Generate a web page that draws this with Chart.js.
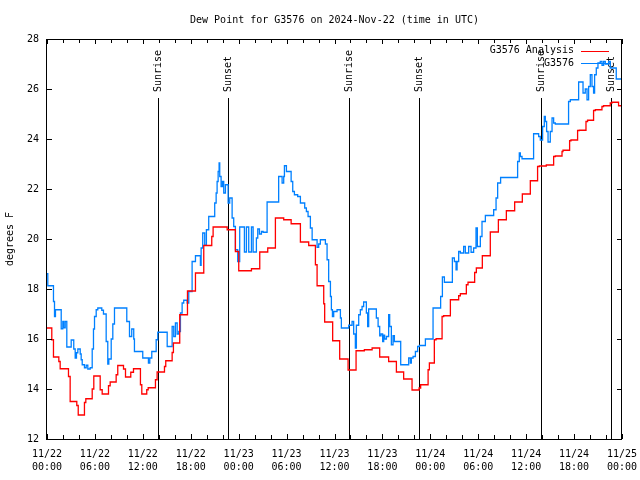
<!DOCTYPE html>
<html>
<head>
<meta charset="utf-8">
<title>Dew Point for G3576</title>
<script src="https://cdn.jsdelivr.net/npm/chart.js@4.4.1/dist/chart.umd.min.js"></script>
<style>
  body { margin: 0; background: #fff; }
  canvas { display: block; }
</style>
</head>
<body>
<canvas id="dewChart" width="640" height="480"></canvas>
<script>
// === Data (time = hours since 2024-11-22 00:00 UTC) ===
const obsTimes = [0, 0.10, 0.81, 0.94, 1.06, 1.78, 1.98, 2.10, 2.28, 2.48, 3.03, 3.35, 3.53, 3.69, 3.86,
  4.16, 4.28, 4.41, 4.69, 4.91, 5.11, 5.41, 5.66, 5.82, 5.95, 6.16, 6.36, 6.86, 7.07, 7.41, 7.61, 7.74,
  8.04, 8.24, 8.45, 9.99, 10.33, 10.61, 10.86, 10.95, 11.99, 12.70, 12.87, 13.12, 13.67, 13.87, 15.05,
  15.67, 15.87, 16.08, 16.30, 16.50, 16.71, 16.92, 17.12, 17.55, 17.75, 18.17, 18.59, 19.21, 19.30,
  19.50, 19.75, 19.96, 20.25, 21.00, 21.18, 21.30, 21.43, 21.55, 21.63, 21.80, 21.97, 22.13, 22.34,
  22.68, 22.88, 23.18, 23.38, 23.59, 23.88, 24.13, 24.72, 24.97, 25.26, 25.60, 25.81, 26.22, 26.39,
  26.60, 26.85, 27.06, 27.56, 29.01, 29.44, 29.64, 29.73, 29.98, 30.57, 30.77, 30.98, 31.39, 31.73,
  32.27, 32.48, 32.69, 32.98, 33.20, 33.82, 34.02, 34.23, 34.86, 35.07, 35.27, 35.49, 35.61, 35.74,
  35.90, 36.32, 36.74, 36.86, 37.78, 38.20, 38.40, 38.61, 38.74, 39.03, 39.24, 39.45, 39.65, 39.99,
  40.15, 40.28, 41.24, 41.46, 41.66, 41.83, 42.03, 42.16, 42.28, 42.50, 42.78, 42.91, 43.12, 43.33,
  43.50, 44.29, 45.29, 45.50, 45.62, 45.84, 46.13, 46.41, 46.63, 47.38, 48.34, 49.29, 49.51, 49.76,
  50.76, 51.01, 51.22, 51.35, 51.55, 51.76, 52.17, 52.38, 52.80, 53.10, 53.42, 53.72, 53.89, 54.26,
  54.47, 54.89, 55.93, 56.23, 56.43, 56.80, 58.93, 59.14, 59.27, 59.48, 60.93, 61.56, 61.77, 62.06,
  62.27, 62.40, 62.56, 62.74, 63.02, 63.24, 63.44, 63.65, 65.31, 65.53, 66.57, 67.12, 67.40, 67.62,
  67.82, 68.03, 68.24, 68.44, 68.57, 68.78, 68.99, 69.28, 69.50, 69.70, 69.91, 70.32, 70.53, 71.28, 72.00];
const obsDew = [18.61, 18.13, 17.50, 16.90, 17.17, 16.41, 16.70, 16.45, 16.70, 15.68, 15.96, 15.60, 15.24, 15.45, 15.60,
  15.40, 15.17, 14.97, 14.85, 14.95, 14.80, 14.85, 15.60, 16.40, 16.90, 17.17, 17.24, 17.15, 17.00, 15.90, 15.00, 15.20,
  16.00, 16.60, 17.24, 16.70, 16.10, 16.40, 16.00, 15.50, 15.24, 15.04, 15.24, 15.50, 15.97, 16.27, 15.70,
  16.50, 16.10, 16.64, 16.20, 16.30, 17.04, 17.44, 17.55, 17.44, 17.90, 19.10, 19.33, 18.95, 19.64,
  20.24, 19.75, 20.37, 20.90, 21.44, 21.84, 22.30, 22.70, 23.04, 22.50, 22.10, 22.30, 21.84, 22.17,
  21.44, 21.64, 20.84, 20.50, 19.57, 19.10, 20.48, 19.48, 20.48, 19.48, 20.48, 19.48, 20.04, 20.40,
  20.20, 20.30, 20.27, 21.48, 22.50, 22.24, 22.50, 22.93, 22.70, 22.30, 21.90, 21.77, 21.70, 21.44,
  21.24, 21.10, 20.90, 20.44, 19.97, 19.67, 19.80, 19.97, 19.80, 19.17, 18.30, 17.70, 17.17, 16.90,
  17.10, 17.17, 16.84, 16.44, 16.55, 16.70, 16.20, 15.64, 16.55, 16.97, 17.17, 17.30, 17.48, 17.04,
  16.50, 17.20, 16.84, 16.50, 16.13, 16.20, 15.90, 16.15, 16.00, 16.10, 16.97, 16.50, 15.77, 16.13,
  15.90, 14.97, 15.24, 15.04, 15.24, 15.30, 15.50, 15.70, 15.74, 16.00, 17.24, 17.70, 18.48, 18.27,
  19.24, 19.10, 18.77, 19.10, 19.50, 19.44, 19.70, 19.44, 19.70, 19.47, 19.64, 20.44, 19.70, 20.10,
  20.70, 20.94, 21.17, 21.64, 22.24, 22.46, 23.10, 23.44, 23.30, 23.21, 24.21, 24.10, 23.96, 24.50,
  24.90, 24.70, 24.30, 23.88, 24.30, 24.84, 24.64, 24.60, 25.50, 25.57, 26.28, 25.84, 26.00, 25.57,
  26.10, 26.57, 26.10, 25.84, 26.57, 26.84, 27.04, 27.10, 26.95, 27.10, 27.00, 27.10, 26.84, 26.40, 26.40];

const anaTimes = [0, 0.60, 0.81, 1.48, 1.65, 2.69, 2.90, 3.73, 3.91, 4.69, 4.86, 5.66, 5.86, 6.66, 6.91,
  7.70, 7.91, 8.66, 8.86, 9.58, 9.83, 10.49, 10.83, 11.70, 11.87, 12.49, 12.67, 13.58, 13.79, 14.71,
  14.87, 15.67, 15.83, 16.62, 17.59, 18.59, 19.63, 20.63, 20.80, 22.56, 23.59, 24.01, 25.60, 26.64,
  27.64, 28.60, 29.64, 30.57, 31.73, 32.77, 33.61, 33.82, 34.65, 34.77, 35.77, 36.65, 37.70, 38.70,
  39.74, 40.71, 41.66, 42.78, 43.75, 44.66, 45.71, 46.59, 46.79, 47.72, 47.88, 48.50, 48.72, 49.47,
  49.67, 50.51, 51.55, 51.76, 52.51, 52.72, 53.55, 53.76, 54.51, 55.51, 56.52, 57.52, 58.56, 59.52,
  60.52, 61.43, 61.65, 62.52, 63.44, 63.65, 64.49, 64.61, 65.44, 65.61, 66.44, 66.65, 67.49, 67.69,
  68.44, 68.66, 69.49, 69.69, 70.53, 70.74, 71.57, 72.00];
const anaDew = [16.44, 15.97, 15.28, 15.10, 14.81, 14.50, 13.50, 13.34, 12.96, 13.46, 13.61, 14.00, 14.52, 13.97, 13.80,
  14.13, 14.28, 14.57, 14.94, 14.80, 14.48, 14.67, 14.81, 14.17, 13.80, 13.97, 14.05, 14.37, 14.68, 14.90,
  15.13, 15.46, 15.84, 16.97, 17.92, 18.64, 19.74, 20.10, 20.48, 20.37, 19.50, 18.73, 18.81, 19.48,
  19.64, 20.84, 20.77, 20.61, 19.88, 19.74, 18.97, 18.13, 17.41, 16.68, 15.93, 15.20, 14.76, 15.53,
  15.57, 15.64, 15.28, 15.10, 14.68, 14.40, 13.96, 14.04, 14.17, 14.77, 15.04, 15.97, 16.01, 16.90,
  16.93, 17.57, 17.73, 17.81, 18.17, 18.27, 18.66, 18.84, 19.33, 20.28, 20.77, 21.13, 21.48, 21.80,
  22.33, 22.90, 22.92, 22.96, 23.30, 23.32, 23.50, 23.55, 23.93, 23.96, 24.34, 24.35, 24.70, 24.75,
  25.14, 25.17, 25.30, 25.33, 25.44, 25.47, 25.33, 25.33];

const sunTimes = [13.87, 22.63, 37.78, 46.54, 61.81, 70.57];
const sunLabels = ["Sunrise", "Sunset", "Sunrise", "Sunset", "Sunrise", "Sunset"];

const yTicks = [12, 14, 16, 18, 20, 22, 24, 26, 28];
const startMonth = 11, startDay = 22;

const FONT = "DejaVu Sans Mono";

function xy(times, vals) {
  return times.map((t, i) => ({ x: t, y: vals[i] }));
}

function tickLabel(v) {
  const day = startDay + Math.floor(v / 24);
  const hr = v % 24;
  return [startMonth + "/" + day, String(hr).padStart(2, "0") + ":00"];
}

// === Extra drawing: frame, inward ticks, sun lines, legend, titles ===
const overlay = {
  id: "overlay",
  beforeDatasetsDraw(chart) {
    const { ctx, chartArea: a, scales } = chart;
    ctx.save();
    ctx.strokeStyle = "#000";
    ctx.lineWidth = 1;
    ctx.fillStyle = "#000";
    ctx.font = "10px '" + FONT + "'";
    sunTimes.forEach((t, i) => {
      const x = Math.round(scales.x.getPixelForValue(t)) + 0.5;
      ctx.beginPath();
      ctx.moveTo(x, a.top + 59);
      ctx.lineTo(x, a.bottom);
      ctx.stroke();
      ctx.save();
      ctx.translate(x, a.top + 53);
      ctx.rotate(-Math.PI / 2);
      ctx.textAlign = "left";
      ctx.textBaseline = "middle";
      ctx.fillText(sunLabels[i], 0, 0);
      ctx.restore();
    });
    ctx.restore();
  },
  afterDraw(chart) {
    const { ctx, chartArea: a, scales } = chart;
    ctx.save();
    ctx.strokeStyle = "#000";
    ctx.lineWidth = 1;
    ctx.strokeRect(a.left - 0.5, a.top + 0.5, a.right - a.left, a.bottom - a.top);

    ctx.beginPath();
    yTicks.forEach(v => {
      const y = Math.round(scales.y.getPixelForValue(v)) + 0.5;
      ctx.moveTo(a.left, y); ctx.lineTo(a.left + 5, y);
      ctx.moveTo(a.right, y); ctx.lineTo(a.right - 5, y);
    });
    for (let h = 0; h <= 72; h += 2) {
      const x = Math.round(scales.x.getPixelForValue(h)) + 0.5;
      const len = h % 6 === 0 ? 5 : 4;
      ctx.moveTo(x, a.bottom); ctx.lineTo(x, a.bottom - len);
      ctx.moveTo(x, a.top); ctx.lineTo(x, a.top + len);
    }
    ctx.stroke();

    // legend
    ctx.font = "10px '" + FONT + "'";
    ctx.textAlign = "right";
    ctx.textBaseline = "middle";
    chart.data.datasets.forEach((ds, i) => {
      const y = 50.5 + i * 12.5;
      ctx.fillStyle = "#000";
      ctx.fillText(ds.label, 574, y);
      ctx.strokeStyle = ds.borderColor;
      ctx.beginPath();
      ctx.moveTo(581, Math.round(y) + 0.5);
      ctx.lineTo(609, Math.round(y) + 0.5);
      ctx.stroke();
    });

    // title and y axis title
    ctx.fillStyle = "#000";
    ctx.textAlign = "center";
    ctx.fillText("Dew Point for G3576 on 2024-Nov-22 (time in UTC)", (a.left + a.right) / 2, 20);
    ctx.save();
    ctx.translate(10, (a.top + a.bottom) / 2);
    ctx.rotate(-Math.PI / 2);
    ctx.fillText("degrees F", 0, 0);
    ctx.restore();
    ctx.restore();
  }
};

// === Chart ===
const ctx = document.getElementById("dewChart").getContext("2d");
new Chart(ctx, {
  type: "line",
  data: {
    datasets: [
      {
        label: "G3576 Analysis",
        data: xy(anaTimes, anaDew),
        borderColor: "#ff0000",
        borderWidth: 1.3,
        stepped: "before",
        pointRadius: 0,
        fill: false
      },
      {
        label: "G3576",
        data: xy(obsTimes, obsDew),
        borderColor: "#0080ff",
        borderWidth: 1.3,
        stepped: "before",
        pointRadius: 0,
        fill: false
      }
    ]
  },
  options: {
    responsive: false,
    animation: false,
    devicePixelRatio: 1,
    layout: { padding: { top: 39, right: 18, left: 0, bottom: 0 } },
    plugins: {
      legend: { display: false },
      title: { display: false },
      tooltip: { enabled: false }
    },
    scales: {
      x: {
        type: "linear",
        min: 0,
        max: 72,
        afterFit: s => { s.height = 41; s.paddingLeft = 0; s.paddingRight = 0; },
        afterBuildTicks: s => { s.ticks = []; for (let h = 0; h <= 72; h += 6) s.ticks.push({ value: h }); },
        grid: { display: false, drawTicks: false },
        border: { display: false },
        ticks: {
          color: "#000",
          padding: 9,
          maxRotation: 0,
          autoSkip: false,
          font: { family: FONT, size: 10, lineHeight: 1.3 },
          callback: v => tickLabel(v)
        }
      },
      y: {
        min: 12,
        max: 28,
        afterFit: s => { s.width = 47; s.paddingTop = 0; s.paddingBottom = 0; },
        afterBuildTicks: s => { s.ticks = yTicks.map(v => ({ value: v })); },
        grid: { display: false, drawTicks: false },
        border: { display: false },
        ticks: {
          color: "#000",
          padding: 8,
          font: { family: FONT, size: 10 }
        }
      }
    }
  },
  plugins: [overlay]
});
</script>
</body>
</html>
